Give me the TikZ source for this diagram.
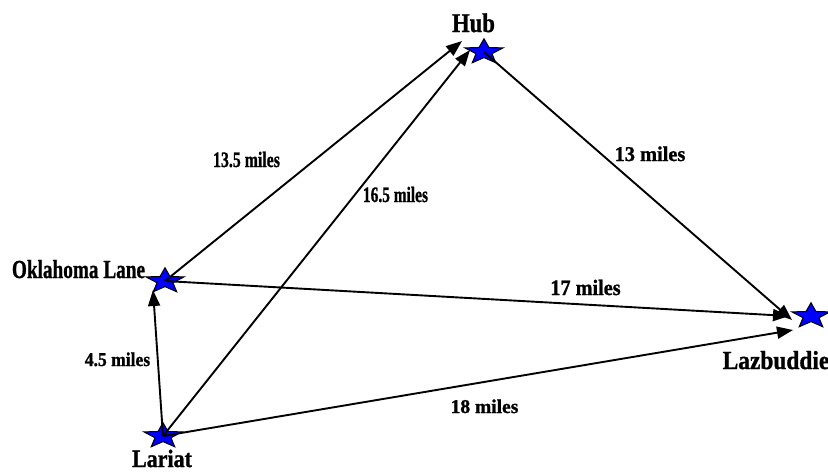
\documentclass[tikz,border=0pt]{standalone}
\usepackage{fontspec}
\usepackage{graphicx}
\setmainfont{Liberation Serif}[BoldFont={Liberation Serif Bold}]
\newfontfamily\heavyfont{Liberation Serif Bold}[FakeBold=1.2]
\usetikzlibrary{arrows.meta}

\definecolor{starblue}{RGB}{0,0,255}

% label text: size (pt), horizontal squeeze, text
\newcommand\maplbl[3]{\fontsize{#1}{#1}\selectfont\heavyfont\scalebox{#2}[1]{#3}}

\tikzset{
  site/.style={minimum width=46pt, minimum height=34pt, inner sep=0pt,
    path picture={
      \draw[fill=starblue, line width=1pt, line join=miter,
            shift={(path picture bounding box.center)}]
        (90:20pt and 13.3pt) -- (126:8.4pt and 5.6pt) --
        (162:20pt and 13.3pt) -- (198:8.4pt and 5.6pt) --
        (234:20pt and 13.3pt) -- (270:8.4pt and 5.6pt) --
        (306:20pt and 13.3pt) -- (342:8.4pt and 5.6pt) --
        (18:20pt and 13.3pt) -- (54:8.4pt and 5.6pt) -- cycle;
    }},
  link/.style={line width=1.9pt, -{Triangle[length=16pt, width=12pt]}},
  txt/.style={inner sep=0pt, anchor=base}
}

\begin{document}
\begin{tikzpicture}[x=1pt, y=-1pt]
  \useasboundingbox (0,0) rectangle (828,472);

  % towns
  \node[site] (hub)   at (484,52)  {};
  \node[site] (okla)  at (165,281) {};
  \node[site] (laz)   at (811,316) {};
  \node[site] (lar)   at (163,436) {};

  % arrow ends beside the stars
  \coordinate (hubA)  at (462,41);
  \coordinate (hubB)  at (470,50);
  \coordinate (lazA)  at (792,320);
  \coordinate (lazB)  at (789,316);
  \coordinate (lazC)  at (793,330);
  \coordinate (oklaA) at (153,290);

  % roads
  \draw[link] (okla.center) -- (hubA);
  \draw[link] (lar.center)  -- (hubB);
  \draw[link] (hub.center)  -- (lazA);
  \draw[link] (okla.center) -- (lazB);
  \draw[link] (lar.center)  -- (lazC);
  \draw[link] (lar.center)  -- (oklaA);

  % town names
  \node[txt] (hubT)  at (473.5,32) {\maplbl{27}{0.84}{Hub}};
  \node[txt] (oklaT) at (78.5,278) {\maplbl{26}{0.74}{Oklahoma Lane}};
  \node[txt] (larT)  at (162,467)  {\maplbl{25}{0.88}{Lariat}};
  \node[txt] (lazT)  at (776,369)  {\maplbl{26}{0.9}{Lazbuddie}};

  % distances
  \node[txt] (d1) at (246.5,167) {\maplbl{22}{0.72}{13.5 miles}};
  \node[txt] (d2) at (395.5,202) {\maplbl{22}{0.70}{16.5 miles}};
  \node[txt] (d3) at (650,161)   {\maplbl{21}{0.97}{13 miles}};
  \node[txt] (d4) at (585.5,295) {\maplbl{22}{0.92}{17 miles}};
  \node[txt] (d5) at (117.5,366) {\maplbl{19.5}{0.9}{4.5 miles}};
  \node[txt] (d6) at (484.5,413) {\maplbl{19.5}{1.0}{18 miles}};
\end{tikzpicture}
\end{document}
